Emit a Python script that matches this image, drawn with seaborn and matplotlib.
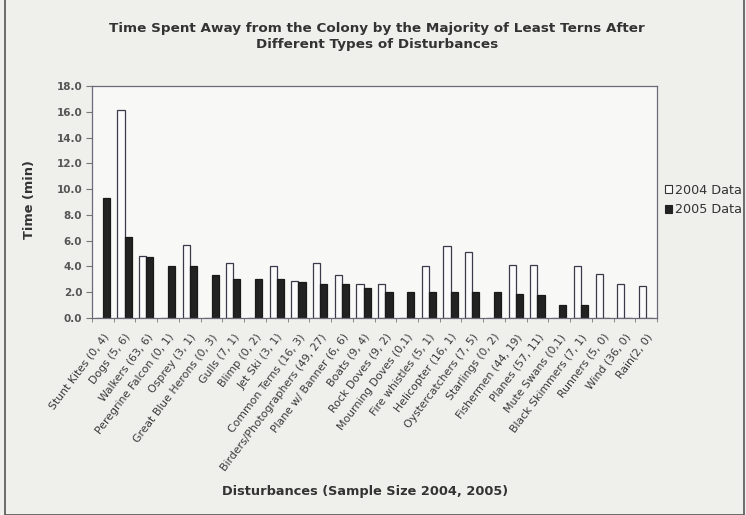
import matplotlib
matplotlib.use("Agg")
import matplotlib.pyplot as plt
import seaborn as sns
import pandas as pd
import numpy as np
from matplotlib.patches import Rectangle, Patch
from matplotlib.ticker import FixedLocator

categories = [
    "Stunt Kites (0, 4)", "Dogs (5, 6)", "Walkers (63, 6)", "Peregrine Falcon (0, 1)",
    "Osprey (3, 1)", "Great Blue Herons (0, 3)", "Gulls (7, 1)", "Blimp (0, 2)",
    "Jet Ski (3, 1)", "Common Terns (16, 3)", "Birders/Photographers (49, 27)",
    "Plane w/ Banner (6, 6)", "Boats (9, 4)", "Rock Doves (9, 2)", "Mourning Doves (0,1)",
    "Fire whistles (5, 1)", "Helicopter (16, 1)", "Oystercatchers (7, 5)", "Starlings (0, 2)",
    "Fishermen (44, 19)", "Planes (57, 11)", "Mute Swans (0,1)", "Black Skimmers (7, 1)",
    "Runners (5, 0)", "Wind (36, 0)", "Rain(2, 0)",
]
data_2004 = [0, 16.1, 4.8, 0, 5.7, 0, 4.3, 0, 4.0, 2.9, 4.3, 3.3, 2.6, 2.6, 0,
             4.0, 5.6, 5.1, 0, 4.1, 4.1, 0, 4.0, 3.4, 2.6, 2.5]
data_2005 = [9.3, 6.3, 4.7, 4.0, 4.0, 3.3, 3.0, 3.0, 3.0, 2.8, 2.6, 2.6, 2.3, 2.0, 2.0,
             2.0, 2.0, 2.0, 2.0, 1.9, 1.8, 1.0, 1.0, 0, 0, 0]
series_names = ["2004 Data", "2005 Data"]
y_ticks = [0, 2, 4, 6, 8, 10, 12, 14, 16, 18]

df = pd.DataFrame({
    "Disturbance": categories * 2,
    "Time": data_2004 + data_2005,
    "Series": [series_names[0]] * len(categories) + [series_names[1]] * len(categories),
})

sns.set_style("white")
plt.rcParams["font.family"] = ["DejaVu Sans"]

W, H = 746, 515
fig = plt.figure(figsize=(W / 100, H / 100), dpi=100, facecolor="#efefec")
ax = fig.add_axes([92 / W, 1 - 318 / H, (657 - 92) / W, (318 - 86) / H])
ax.set_facecolor("#f8f8f6")

sns.barplot(data=df, x="Disturbance", y="Time", hue="Series", order=categories,
            hue_order=series_names, palette=["#fbfbfb", "#222222"],
            width=0.66, gap=0.0, ax=ax, errorbar=None, legend=False,
            edgecolor="#3a3a4a", linewidth=0.9)
for bar in ax.patches[len(categories):]:
    bar.set_edgecolor("#1a1a1a")

ax.set_ylim(0, 18)
ax.set_xlim(-0.5, len(categories) - 0.5)
ax.set_yticks(y_ticks)
ax.set_yticklabels([f"{v:.1f}" for v in y_ticks], fontsize=7.5, fontweight="bold",
                   color="#555555")
ax.set_xticks(range(len(categories)))
ax.set_xticklabels(categories, rotation=53, ha="right", rotation_mode="anchor",
                   fontsize=7.8, color="#3a3a3a")
ax.xaxis.set_minor_locator(FixedLocator(np.arange(-0.5, len(categories), 1)))
ax.tick_params(axis="x", which="major", length=0, pad=10)
ax.tick_params(axis="x", which="minor", length=3, color="#777777", direction="out")
ax.tick_params(axis="y", length=4, color="#777777", direction="out", pad=3)
ax.yaxis.set_ticks_position("left")
ax.xaxis.set_ticks_position("bottom")
for s in ax.spines.values():
    s.set_visible(True)
    s.set_color("#6a6a7a")
    s.set_linewidth(0.9)

ax.set_xlabel("")
ax.set_ylabel("")
fig.text(30 / W, 1 - 200 / H, "Time (min)", rotation=90, ha="center", va="center",
         fontsize=9.3, fontweight="bold", color="#333333")
fig.text(365 / W, 1 - 492 / H, "Disturbances (Sample Size 2004, 2005)", ha="center",
         va="center", fontsize=9.3, fontweight="bold", color="#333333")
fig.text(377 / W, 1 - 36 / H,
         "Time Spent Away from the Colony by the Majority of Least Terns After\nDifferent Types of Disturbances",
         ha="center", va="center", fontsize=9.7, fontweight="bold", color="#333333",
         linespacing=1.3)

handles = [Patch(facecolor="#fbfbfb", edgecolor="#333333", linewidth=0.8),
           Patch(facecolor="#222222", edgecolor="#222222", linewidth=0.8)]
fig.legend(handles, series_names, loc="center left", bbox_to_anchor=(665 / W, 1 - 200 / H),
           frameon=False, fontsize=9.2, handlelength=0.55, handleheight=0.55,
           handletextpad=0.25, labelspacing=0.5, labelcolor="#333333",
           borderpad=0, borderaxespad=0)

fig.patches.append(Rectangle((5 / W, 0), (744 - 5) / W, 1.2, transform=fig.transFigure,
                             fill=False, edgecolor="#555555", linewidth=1.2))

fig.savefig("out.png", dpi=100, facecolor=fig.get_facecolor())
